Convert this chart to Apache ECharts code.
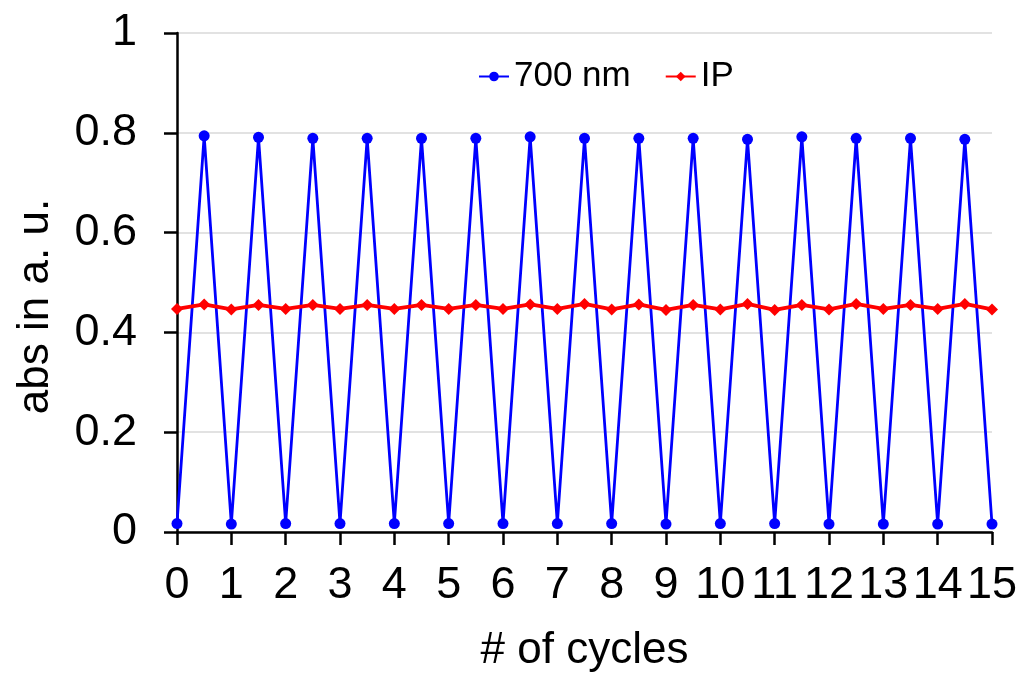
<!DOCTYPE html>
<html>
<head>
<meta charset="utf-8">
<script src="https://cdn.jsdelivr.net/npm/echarts@6/dist/echarts.min.js"></script>
<style>
  html, body { margin: 0; padding: 0; background: #fff; }
  #main { width: 1022px; height: 673px; }
</style>
</head>
<body>
<div id="main"></div>
<script>
// x positions (cycles, half steps)
const cycles = [0, 0.5, 1, 1.5, 2, 2.5, 3, 3.5, 4, 4.5, 5, 5.5, 6, 6.5, 7, 7.5,
  8, 8.5, 9, 9.5, 10, 10.5, 11, 11.5, 12, 12.5, 13, 13.5, 14, 14.5, 15];
// 700 nm absorbance
const abs700 = [0.017, 0.794, 0.016, 0.791, 0.017, 0.789, 0.017, 0.789, 0.017, 0.789,
  0.017, 0.789, 0.017, 0.792, 0.017, 0.789, 0.017, 0.789, 0.016, 0.789,
  0.017, 0.787, 0.017, 0.792, 0.016, 0.789, 0.016, 0.789, 0.016, 0.787, 0.016];
// isosbestic point
const absIP = [0.447, 0.456, 0.446, 0.455, 0.447, 0.455, 0.447, 0.455, 0.447, 0.455,
  0.447, 0.455, 0.447, 0.456, 0.447, 0.457, 0.446, 0.456, 0.445, 0.455,
  0.446, 0.457, 0.445, 0.455, 0.446, 0.457, 0.447, 0.455, 0.447, 0.457, 0.446];
const seriesNames = ['700 nm', 'IP'];

const font = 'Arial, "Liberation Sans", sans-serif';
const chart = echarts.init(document.getElementById('main'), null, { renderer: 'canvas' });

const option = {
  animation: false,
  backgroundColor: '#fff',
  textStyle: { fontFamily: font },
  grid: {
    left: 177, right: 30, top: 33, bottom: 141,
    outerBoundsMode: 'none'
  },
  legend: {
    data: seriesNames,
    left: 473,
    top: 54,
    itemWidth: 30,
    itemHeight: 12,
    itemGap: 34,
    textStyle: { fontSize: 35, color: '#000', fontFamily: font }
  },
  xAxis: {
    type: 'value',
    min: 0, max: 15, interval: 1,
    name: '# of cycles',
    nameLocation: 'middle',
    nameGap: 97,
    nameTextStyle: { fontSize: 44, color: '#000', fontFamily: font },
    axisLine: { show: true, onZero: false, lineStyle: { color: '#000', width: 2.5 } },
    axisTick: { show: true, inside: false, length: 13, lineStyle: { color: '#000', width: 2.5 } },
    axisLabel: { fontSize: 45, color: '#000', margin: 31, fontFamily: font },
    splitLine: { show: false }
  },
  yAxis: {
    type: 'value',
    min: 0, max: 1, interval: 0.2,
    name: 'abs in a. u.',
    nameLocation: 'middle',
    nameGap: 119,
    nameTextStyle: { fontSize: 44, color: '#000', fontFamily: font, padding: [0, 48, 0, 0] },
    axisLine: { show: true, lineStyle: { color: '#000', width: 2.5 } },
    axisTick: { show: true, inside: false, length: 13, lineStyle: { color: '#000', width: 2.5 } },
    axisLabel: { fontSize: 45, color: '#000', margin: 40, fontFamily: font },
    splitLine: { show: true, lineStyle: { color: '#d9d9d9', width: 1.5 } }
  },
  series: [
    {
      name: seriesNames[0],
      type: 'line',
      data: cycles.map((c, i) => [c, abs700[i]]),
      symbol: 'circle',
      symbolSize: 11,
      showSymbol: true,
      color: '#0000ff',
      lineStyle: { color: '#0000ff', width: 2.8 },
      itemStyle: { color: '#0000ff' }
    },
    {
      name: seriesNames[1],
      type: 'line',
      data: cycles.map((c, i) => [c, absIP[i]]),
      symbol: 'diamond',
      symbolSize: 12,
      showSymbol: true,
      color: '#ff0000',
      lineStyle: { color: '#ff0000', width: 3.8 },
      itemStyle: { color: '#ff0000' }
    }
  ]
};
chart.setOption(option);
</script>
</body>
</html>
